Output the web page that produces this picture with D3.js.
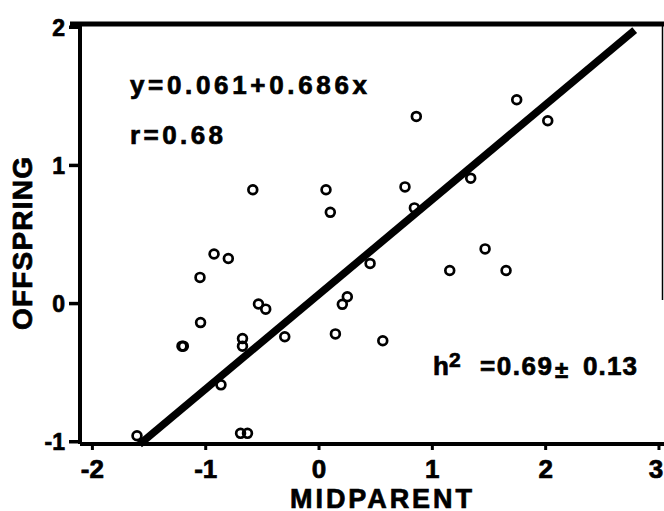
<!DOCTYPE html>
<html>
<head>
<meta charset="utf-8">
<script src="https://cdn.jsdelivr.net/npm/d3@7"></script>
<style>
    body { margin: 0; background: #fff; }
    svg text { font-family: "Liberation Sans", Arial, Helvetica, sans-serif; font-weight: bold; fill: #000;
               stroke: #000; stroke-width: 0.7px; }
</style>
</head>
<body>
<svg id="chart" width="664" height="511"></svg>
<script>
// values
let midparent = [-0.58, 0.066, 0.104, -0.922, -0.796, -1.046, 0.455, -0.53, -0.466, 0.254,
                 0.21, -1.041, -1.205, -1.193, -0.671, -0.671, -0.298, 0.149, 0.567, -0.861,
                 -1.602, -0.688, -0.627, 0.863, 1.749, 2.023, 1.343, 0.763, 1.47, 1.158,
                 1.655, 0.846];
let offspring = [0.82, 0.82, 0.657, 0.355, 0.323, 0.186, 0.287, -0.007, -0.044, 0.046,
                 -0.009, -0.141, -0.312, -0.312, -0.257, -0.312, -0.244, -0.223, -0.273, -0.592,
                 -0.96, -0.943, -0.943, 1.351, 1.472, 1.32, 0.904, 0.841, 0.392, 0.236,
                 0.236, 0.689];

let xTicks = [-2, -1, 0, 1, 2, 3],
    yTicks = [-1, 0, 1, 2];

let fitIntercept = 0.061,
    fitSlope = 0.686,
    fitFrom = -1.58,
    fitTo = 2.79;

let eqLabel = 'y=0.061+0.686x',
    rLabel = 'r=0.68',
    h2Value = '=0.69',
    h2Pm = '\u00b1',
    h2Err = '0.13';

let svg = d3.select('#chart');

let x = d3.scaleLinear().domain([-2.105, 3.04]).range([80, 663]),
    y = d3.scaleLinear().domain([-1.02, 2.02]).range([444, 24]);

let pts = midparent.map((d, i) => ({ mp: d, off: offspring[i] }));

// frame: heavy top and left, thin right edge
svg.append('line')
    .attr('x1', 70).attr('x2', 664)
    .attr('y1', y(2.02)).attr('y2', y(2.02))
    .attr('stroke', '#000').attr('stroke-width', 5);

svg.append('line')
    .attr('x1', x(3.04) - 0.5).attr('x2', x(3.04) - 0.5)
    .attr('y1', y(2.02)).attr('y2', 300)
    .attr('stroke', '#000').attr('stroke-width', 1.5);

// y axis
let yAxis = d3.axisLeft(y)
    .tickValues(yTicks)
    .tickSize(11)
    .tickPadding(4)
    .tickFormat(d => d < 0 ? '-' + Math.abs(d) : d);

let gy = svg.append('g')
    .attr('transform', 'translate(' + x(-2.105) + ',0)')
    .call(yAxis);
gy.select('.domain')
    .attr('d', 'M0,' + y(2.02) + 'V' + y(-1.02))
    .attr('stroke-width', 4);
gy.selectAll('.tick line').attr('stroke-width', 3.5);
gy.selectAll('.tick text')
    .attr('font-size', 23)
    .attr('dy', '0.36em');

// x axis
let xAxis = d3.axisBottom(x)
    .tickValues(xTicks)
    .tickSize(6)
    .tickPadding(10)
    .tickFormat(d => d < 0 ? '-' + Math.abs(d) : d);

let gx = svg.append('g')
    .attr('transform', 'translate(0,' + y(-1.02) + ')')
    .call(xAxis);
gx.select('.domain')
    .attr('d', 'M' + x(-2.105) + ',0H664')
    .attr('stroke-width', 4);
gx.selectAll('.tick line').attr('stroke-width', 3);
gx.selectAll('.tick text')
    .attr('font-size', 26)
    .attr('dy', '0.68em')
    .attr('dx', d => d === 3 ? -3 : 0);

// regression line
let lineFunc = d3.line()
    .x(d => x(d))
    .y(d => y(fitIntercept + fitSlope * d));

svg.append('path')
    .datum([fitFrom, fitTo])
    .attr('d', lineFunc)
    .attr('fill', 'none')
    .attr('stroke', '#000')
    .attr('stroke-width', 7.5);

// points
svg.append('g')
    .selectAll('circle')
    .data(pts)
    .enter().append('circle')
    .attr('cx', d => x(d.mp))
    .attr('cy', d => y(d.off))
    .attr('r', 4.4)
    .attr('fill', 'none')
    .attr('stroke', '#000')
    .attr('stroke-width', 2.7);

// annotations
svg.append('text')
    .attr('x', 130).attr('y', 94)
    .attr('font-size', 26)
    .attr('textLength', 237)
    .attr('lengthAdjust', 'spacing')
    .text(eqLabel);

svg.append('text')
    .attr('x', 130).attr('y', 144)
    .attr('font-size', 26)
    .attr('textLength', 93)
    .attr('lengthAdjust', 'spacing')
    .text(rLabel);

svg.append('text')
    .attr('x', 433).attr('y', 375)
    .attr('font-size', 26)
    .text('h');
svg.append('text')
    .attr('x', 449).attr('y', 367)
    .attr('font-size', 21)
    .text('2');
svg.append('text')
    .attr('x', 480).attr('y', 375)
    .attr('font-size', 26)
    .attr('textLength', 72)
    .attr('lengthAdjust', 'spacing')
    .text(h2Value);
svg.append('text')
    .attr('x', 555).attr('y', 378)
    .attr('font-size', 24)
    .text(h2Pm);
svg.append('text')
    .attr('x', 583).attr('y', 375)
    .attr('font-size', 26)
    .attr('textLength', 54)
    .attr('lengthAdjust', 'spacing')
    .text(h2Err);

// axis titles
svg.append('text')
    .attr('transform', 'translate(32,' + 243.5 + ') rotate(-90)')
    .attr('text-anchor', 'middle')
    .attr('font-size', 28)
    .attr('textLength', 173)
    .attr('lengthAdjust', 'spacing')
    .text('OFFSPRING');

svg.append('text')
    .attr('x', 381).attr('y', 508)
    .attr('text-anchor', 'middle')
    .attr('font-size', 27)
    .attr('textLength', 182)
    .attr('lengthAdjust', 'spacing')
    .text('MIDPARENT');
</script>
</body>
</html>
